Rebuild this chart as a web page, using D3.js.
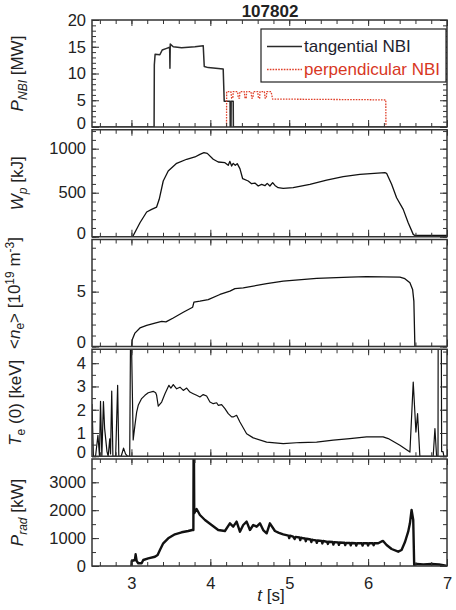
<!DOCTYPE html>
<html>
<head>
<meta charset="utf-8">
<script src="https://cdn.jsdelivr.net/npm/d3@7"></script>
<style>
  body { margin: 0; background: #fff; }
  text { font-family: "Liberation Sans", Arial, sans-serif; fill: #222; }
</style>
</head>
<body>
<div id="chart"></div>
<script>
// shot number and time axis
var shotNo = "107802";
var timeTicks = [3, 4, 5, 6, 7];

// NBI port-through power [MW], [t, value]
var nbiTangential = [[2.5,0],[3.287,0],[3.29,11.6],[3.3,13.6],[3.36,13.5],[3.39,14.4],[3.446,14.7],[3.484,14.9],
  [3.488,11.0],[3.492,15.5],[3.53,15.0],[3.636,14.8],[3.805,15.0],[3.91,15.2],[3.923,11.3],[3.973,11.1],
  [4.163,10.85],[4.176,4.8],[4.25,4.8],[4.252,0],[4.262,0],[4.264,4.8],[4.29,4.8],[4.292,0],[7,0]];
var nbiPerpendicular = [[4.205,0],[4.207,6.6],[4.26,6.6],[4.27,5.4],[4.285,5.4],[4.29,6.6],[4.345,6.6],
  [4.355,5.4],[4.37,5.4],[4.375,6.6],[4.43,6.6],[4.44,5.4],[4.455,5.4],[4.46,6.6],[4.515,6.6],[4.525,5.4],
  [4.54,5.4],[4.545,6.6],[4.6,6.6],[4.61,5.4],[4.625,5.4],[4.63,6.6],[4.685,6.6],[4.695,5.4],[4.71,5.4],
  [4.715,6.6],[4.77,6.6],[4.79,5.2],[5.0,5.2],[5.5,5.15],[6.0,5.1],[6.224,5.05],[6.226,0]];

// stored energy [kJ]
var storedEnergy = [[3.015,0],[3.108,159],[3.193,281],[3.256,311],[3.319,337],[3.352,425],[3.403,633],
  [3.466,747],[3.573,834],[3.70,880],[3.805,906],[3.868,936],[3.919,955],[3.961,947],[4.037,880],[4.10,849],
  [4.185,841],[4.227,811],[4.248,856],[4.27,803],[4.29,833],[4.316,811],[4.341,830],[4.375,773],[4.41,659],
  [4.48,633],[4.523,602],[4.565,610],[4.607,576],[4.65,595],[4.692,580],[4.721,606],[4.755,576],[4.79,614],
  [4.819,583],[4.86,557],[4.924,550],[5.05,557],[5.262,595],[5.474,644],[5.684,682],[5.896,709],[6.213,727],
  [6.234,720],[6.298,595],[6.361,443],[6.445,311],[6.508,159],[6.572,27],[6.593,15],[7,15]];

// line averaged density [1e19 m^-3]
var lineDensity = [[3.003,0],[3.01,0.61],[3.044,1.22],[3.108,1.69],[3.193,1.93],[3.298,2.14],[3.383,2.29],
  [3.437,2.24],[3.53,2.6],[3.657,3.12],[3.776,3.58],[3.792,4.04],[3.868,4.13],[3.973,4.28],[4.122,4.74],
  [4.248,5.05],[4.312,5.27],[4.417,5.35],[4.714,5.72],[4.924,5.96],[5.347,6.21],[5.769,6.33],[5.98,6.36],
  [6.403,6.33],[6.466,6.18],[6.53,5.81],[6.564,5.2],[6.58,4.13],[6.593,0],[7,0]];

// central electron temperature [keV]
var centralTe = [[2.5,2.25],[2.518,0],[2.545,0],[2.575,0.9],[2.595,0],[2.608,2.36],[2.625,0],[2.645,2.35],
  [2.66,1.2],[2.69,0.2],[2.705,0],[2.725,0.75],[2.735,0.1],[2.75,2.8],[2.765,0],[2.8,0],[2.825,3.05],[2.84,0],
  [2.87,0],[2.9,0.35],[2.925,0.1],[2.95,0],[2.978,0],[2.988,5.0],[3.0,5.0],[3.022,0.7],[3.044,1.33],[3.066,1.9],
  [3.086,2.19],[3.129,2.48],[3.171,2.62],[3.213,2.73],[3.276,2.79],[3.307,2.73],[3.319,2.62],[3.34,2.15],
  [3.383,2.33],[3.425,2.69],[3.475,3.05],[3.5,2.93],[3.53,3.08],[3.573,2.9],[3.615,2.97],[3.657,2.83],
  [3.7,2.93],[3.741,2.76],[3.783,2.69],[3.826,2.62],[3.868,2.55],[3.91,2.65],[3.953,2.59],[3.995,2.33],
  [4.037,2.26],[4.08,2.3],[4.1,2.19],[4.143,2.22],[4.185,2.05],[4.227,1.83],[4.27,1.69],[4.29,1.69],
  [4.333,1.76],[4.375,1.47],[4.46,0.97],[4.544,0.79],[4.714,0.61],[4.924,0.54],[5.136,0.59],[5.347,0.61],
  [5.558,0.69],[5.769,0.76],[5.98,0.83],[6.19,0.83],[6.255,0.76],[6.403,0.47],[6.53,0.18],[6.572,3.19],
  [6.606,1.04],[6.627,1.83],[6.656,0],[6.825,0],[6.847,1.19],[6.868,0],[6.886,0],[6.888,5],[6.928,5],
  [6.932,0.2],[6.95,0.2],[6.96,0],[7,0]];

// radiated power [kW]
var radiatedPower = [[3.0,0],[3.003,179],[3.044,215],[3.053,419],[3.066,179],[3.086,97],[3.129,97],[3.15,215],
  [3.213,275],[3.298,333],[3.332,394],[3.361,573],[3.403,813],[3.466,993],[3.551,1136],[3.636,1208],[3.72,1254],
  [3.771,1290],[3.785,1290],[3.788,4200],[3.792,4200],[3.796,1889],[3.826,2043],[3.868,1828],[3.932,1649],
  [4.016,1470],[4.1,1290],[4.185,1254],[4.248,1530],[4.29,1410],[4.333,1590],[4.375,1230],[4.417,1470],
  [4.46,1590],[4.502,1290],[4.544,1470],[4.587,1410],[4.629,1530],[4.67,1290],[4.714,1172],[4.755,1530],
  [4.819,1254],[4.87,1190],[4.924,1136],[4.99,1090],[5.0,1000],[5.01,1085],[5.05,1050],[5.07,970],[5.08,1045],
  [5.13,1020],[5.14,930],[5.15,1015],[5.177,993],[5.2,985],[5.21,890],[5.22,975],[5.27,950],[5.28,860],
  [5.29,940],[5.304,932],[5.34,920],[5.35,830],[5.36,915],[5.41,900],[5.42,810],[5.43,895],[5.474,871],
  [5.48,870],[5.49,790],[5.5,868],[5.55,860],[5.56,770],[5.57,855],[5.62,845],[5.63,760],[5.64,842],
  [5.684,835],[5.7,832],[5.71,750],[5.72,830],[5.77,825],[5.78,740],[5.79,822],[5.84,818],[5.85,735],
  [5.86,816],[5.896,813],[5.92,813],[5.93,730],[5.94,813],[5.99,813],[6.0,735],[6.01,813],[6.06,813],
  [6.07,745],[6.08,813],[6.128,813],[6.17,880],[6.19,896],[6.234,753],[6.298,609],[6.382,513],[6.424,573],
  [6.466,849],[6.508,1230],[6.53,1530],[6.551,2007],[6.572,1649],[6.584,36],[6.615,72],[6.7,60],[6.8,70],
  [6.9,55],[6.97,20],[7,0]];

var legendNames = ["tangential NBI", "perpendicular NBI"];

var svgWidth = 456;
var svgHeight = 610;
var left = 92, right = 447;
var panelTop = [20, 129.75, 239.5, 349.25, 459];
var panelHeight = 107;

var panels = [
  { domain: [0, 20], major: [0, 5, 10, 15, 20], minor: d3.range(0, 21, 1),
    series: [{ data: nbiTangential, color: "#2a2a2a", width: 1.5 },
             { data: nbiPerpendicular, color: "#e0402a", width: 1.3, dash: "1.6,1.2" }],
    label: [{ t: "P", it: 1 }, { t: "NBI", it: 1, sub: 1 }, { t: " [MW]" }], lx: 23 },
  { domain: [0, 1215], major: [0, 500, 1000], minor: d3.range(0, 1201, 100),
    series: [{ data: storedEnergy, color: "#111", width: 1.3 }],
    label: [{ t: "W", it: 1 }, { t: "p", it: 1, sub: 1 }, { t: " [kJ]" }], lx: 23 },
  { domain: [0, 9.75], major: [0, 5], minor: d3.range(0, 10, 1),
    series: [{ data: lineDensity, color: "#111", width: 1.3 }],
    label: [{ t: "<" }, { t: "n", it: 1 }, { t: "e", sub: 1 }, { t: "> [10" }, { t: "19", sup: 1 },
            { t: " m" }, { t: "-3", sup: 1 }, { t: "]" }], lx: 20 },
  { domain: [0, 4.6], major: [0, 1, 2, 3, 4], minor: d3.range(0, 4.6, 0.5),
    series: [{ data: centralTe, color: "#111", width: 1.2 }],
    label: [{ t: "T", it: 1 }, { t: "e", sub: 1 }, { t: " (0) [keV]" }], lx: 21 },
  { domain: [0, 3835], major: [0, 1000, 2000, 3000], minor: d3.range(0, 3801, 500),
    series: [{ data: radiatedPower, color: "#111", width: 2.4 }],
    label: [{ t: "P", it: 1 }, { t: "rad", it: 1, sub: 1 }, { t: " [kW]" }], lx: 23 }
];

var svg = d3.select("#chart").append("svg")
  .attr("width", svgWidth)
  .attr("height", svgHeight);

var x = d3.scaleLinear().domain([2.5, 7]).range([left, right]);
var xMinor = d3.range(2.6, 6.99, 0.2);
var fmt = d3.format("d");

function tickLayer(g, make, tr, vals, len) {
  var a = g.append("g").attr("transform", tr)
    .call(make().tickValues(vals).tickSize(-len).tickFormat(""));
  a.select(".domain").remove();
  a.selectAll("line").attr("stroke", "#333").attr("stroke-width", 1);
}

panels.forEach(function(p, i) {
  var top = panelTop[i];
  var bottom = top + panelHeight;
  var y = d3.scaleLinear().domain(p.domain).range([bottom, top]);
  var g = svg.append("g");

  svg.append("clipPath").attr("id", "clip" + i)
    .append("rect").attr("x", left).attr("y", top)
    .attr("width", right - left).attr("height", panelHeight);

  var line = d3.line().x(d => x(d[0])).y(d => y(d[1]));
  var lines = g.append("g").attr("clip-path", "url(#clip" + i + ")");
  p.series.forEach(function(s) {
    lines.append("path")
      .attr("d", line(s.data))
      .attr("fill", "none")
      .attr("stroke", s.color)
      .attr("stroke-width", s.width)
      .attr("stroke-linejoin", "round")
      .attr("stroke-dasharray", s.dash || null);
  });

  // ticks on all four sides, pointing inward
  tickLayer(g, () => d3.axisLeft(y), `translate(${left},0)`, p.minor, 4);
  tickLayer(g, () => d3.axisLeft(y), `translate(${left},0)`, p.major, 7);
  tickLayer(g, () => d3.axisRight(y), `translate(${right},0)`, p.minor, 4);
  tickLayer(g, () => d3.axisRight(y), `translate(${right},0)`, p.major, 7);
  tickLayer(g, () => d3.axisBottom(x), `translate(0,${bottom})`, xMinor, 4);
  tickLayer(g, () => d3.axisBottom(x), `translate(0,${bottom})`, timeTicks, 7);
  tickLayer(g, () => d3.axisTop(x), `translate(0,${top})`, xMinor, 4);
  tickLayer(g, () => d3.axisTop(x), `translate(0,${top})`, timeTicks, 6);

  // tick labels
  var lab = g.append("g").attr("transform", `translate(${left},0)`)
    .call(d3.axisLeft(y).tickValues(p.major).tickSize(0).tickPadding(6).tickFormat(fmt));
  lab.select(".domain").remove();
  lab.selectAll("text").attr("font-size", 16.5).attr("fill", "#222")
    .attr("font-family", "Liberation Sans, Arial, sans-serif")
    .filter(d => d === 0 && i < 4).attr("y", -4);

  g.append("rect")
    .attr("x", left).attr("y", top)
    .attr("width", right - left).attr("height", panelHeight)
    .attr("fill", "none").attr("stroke", "#333").attr("stroke-width", 1.5);

  // rotated y label with sub/superscripts
  var txt = svg.append("text")
    .attr("transform", `translate(${p.lx},${top + panelHeight / 2}) rotate(-90)`)
    .attr("text-anchor", "middle")
    .attr("font-size", 17);
  var shift = 0;
  p.label.forEach(function(part) {
    var target = part.sub ? 4 : part.sup ? -6.5 : 0;
    txt.append("tspan")
      .attr("dy", target - shift)
      .attr("font-size", part.sub || part.sup ? 12 : 17)
      .attr("font-style", part.it ? "italic" : "normal")
      .text(part.t);
    shift = target;
  });

  if (i === panels.length - 1) {
    var xa = g.append("g").attr("transform", `translate(0,${bottom})`)
      .call(d3.axisBottom(x).tickValues(timeTicks).tickSize(0).tickPadding(11).tickFormat(fmt));
    xa.select(".domain").remove();
    xa.selectAll("text").attr("font-size", 16.5).attr("fill", "#222")
      .attr("font-family", "Liberation Sans, Arial, sans-serif");
  }
});

// title
svg.append("text")
  .attr("x", 270).attr("y", 16.5)
  .attr("text-anchor", "middle")
  .attr("font-size", 17).attr("font-weight", "bold")
  .text(shotNo);

// x label
var xl = svg.append("text")
  .attr("x", 271).attr("y", 601)
  .attr("text-anchor", "middle")
  .attr("font-size", 17);
xl.append("tspan").attr("font-style", "italic").text("t");
xl.append("tspan").text(" [s]");

// legend
var legend = svg.append("g");
legend.append("rect")
  .attr("x", 261).attr("y", 29).attr("width", 185).attr("height", 53)
  .attr("fill", "#fff").attr("stroke", "#222").attr("stroke-width", 1.2);
legendNames.forEach(function(name, k) {
  var s = panels[0].series[k];
  var ly = k === 0 ? 46.5 : 69.5;
  legend.append("line")
    .attr("x1", 267).attr("x2", 302).attr("y1", ly).attr("y2", ly)
    .attr("stroke", s.color).attr("stroke-width", s.width)
    .attr("stroke-dasharray", s.dash || null);
  legend.append("text")
    .attr("x", 304).attr("y", ly + 5.5)
    .attr("font-size", 17)
    .style("fill", k === 0 ? "#1e1e2e" : "#d8371f")
    .text(name);
});
</script>
</body>
</html>
